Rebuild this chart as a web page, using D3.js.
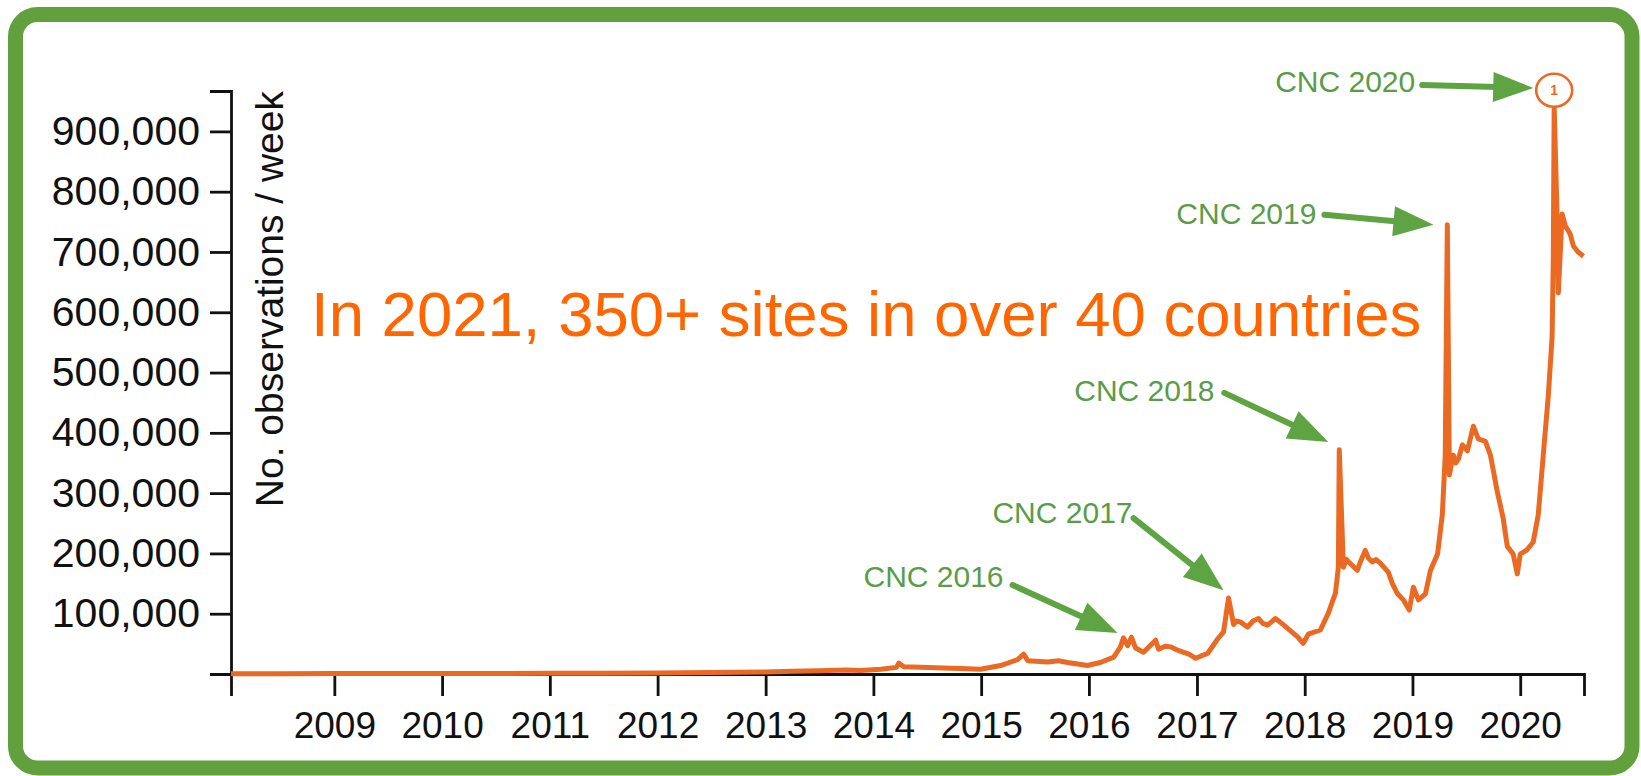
<!DOCTYPE html>
<html>
<head>
<meta charset="utf-8">
<title>observations per week</title>
<script src="https://cdn.jsdelivr.net/npm/d3@7"></script>
<style>
  body { margin: 0; background: #fff; }
  text { font-family: "Liberation Sans", Arial, Helvetica, sans-serif; }
</style>
</head>
<body>
<script>
var dates = [
  "2008-01-17","2008-07-01","2009-01-01","2009-07-01","2010-01-01","2010-07-01",
  "2011-01-01","2011-07-01","2012-01-01","2012-04-01","2012-07-01","2012-10-01",
  "2013-01-01","2013-04-01","2013-07-01","2013-10-01","2013-11-18","2014-01-26",
  "2014-03-20","2014-03-28","2014-04-14","2014-06-10","2014-08-26","2014-10-23",
  "2014-12-30","2015-03-08","2015-05-05","2015-05-25","2015-06-08","2015-08-14",
  "2015-09-20","2015-10-21","2015-12-27","2016-02-09","2016-03-25","2016-04-17",
  "2016-04-27","2016-05-11","2016-05-24","2016-06-07","2016-07-04","2016-08-14",
  "2016-08-24","2016-09-15","2016-10-04","2016-10-25","2016-11-17","2016-12-05",
  "2016-12-28","2017-01-15","2017-02-06","2017-03-12","2017-04-01","2017-04-18",
  "2017-05-05","2017-05-15","2017-05-29","2017-06-21","2017-07-10","2017-07-28",
  "2017-08-12","2017-08-28","2017-09-24","2017-10-15","2017-11-03","2017-12-07",
  "2017-12-27","2018-01-13","2018-02-23","2018-03-22","2018-04-15","2018-04-25",
  "2018-04-28","2018-05-12","2018-05-22","2018-06-05","2018-06-28","2018-07-10",
  "2018-07-25","2018-08-05","2018-08-18","2018-08-30","2018-09-14","2018-10-11",
  "2018-10-25","2018-11-10","2018-12-01","2018-12-21","2019-01-04","2019-01-21",
  "2019-02-14","2019-03-03","2019-03-27","2019-04-12","2019-04-22","2019-04-29",
  "2019-05-06","2019-05-19","2019-05-28","2019-06-06","2019-06-19","2019-07-06",
  "2019-07-26","2019-08-12","2019-09-05","2019-09-22","2019-10-15","2019-11-04",
  "2019-11-18","2019-12-08","2019-12-22","2020-01-01","2020-01-24","2020-02-14",
  "2020-03-02","2020-03-19","2020-04-05","2020-04-18","2020-04-22","2020-04-25",
  "2020-05-05","2020-05-09","2020-05-22","2020-06-02","2020-06-18","2020-06-29",
  "2020-07-15","2020-08-02"
]
var counts = [
  500, 600, 700, 800, 900, 1000,
  1100, 1300, 1500, 2000, 2500, 3000,
  3500, 4500, 5500, 6500, 6000, 8000,
  11000, 18000, 12000, 11000, 10000, 9000,
  8000, 14000, 24000, 33000, 22000, 20000,
  22000, 19000, 14000, 19000, 28000, 45000,
  60000, 47000, 61000, 43000, 36000, 56000,
  41000, 46000, 45000, 40000, 36000, 33000,
  26000, 30000, 34000, 58000, 70000, 126000,
  82000, 88000, 86000, 78000, 88000, 92000,
  84000, 81000, 92000, 84000, 76000, 62000,
  51000, 66000, 73000, 101000, 134000, 177000,
  372000, 177000, 190000, 183000, 172000, 188000,
  205000, 192000, 186000, 190000, 184000, 169000,
  150000, 134000, 123000, 106000, 144000, 123000,
  133000, 172000, 199000, 264000, 363000, 745000,
  330000, 363000, 350000, 357000, 380000, 370000,
  411000, 390000, 386000, 363000, 303000, 259000,
  212000, 199000, 166000, 199000, 206000, 219000,
  264000, 363000, 461000, 559000, 690000, 940000,
  756000, 632000, 763000, 743000, 730000, 710000,
  700000, 693000
]

var yTicks = [0, 100000, 200000, 300000, 400000, 500000, 600000, 700000, 800000, 900000]
var xYears = [2009, 2010, 2011, 2012, 2013, 2014, 2015, 2016, 2017, 2018, 2019, 2020]

// annotations: label, where the arrow points (date, value)
var noteLabels = ["CNC 2016", "CNC 2017", "CNC 2018", "CNC 2019", "CNC 2020"]
var noteDates = ["2016-04-07", "2017-04-01", "2018-03-22", "2019-03-13", "2020-02-14"]
var noteValues = [68000, 139000, 385000, 745000, 972000]

var title = "In 2021, 350+ sites in over 40 countries"
var yTitle = "No. observations / week"

var w = 1641, h = 776
var parse = d3.timeParse("%Y-%m-%d")
var data = dates.map(function(d, i) { return { date: parse(d), v: counts[i] } })

var svg = d3.select("body").append("svg").attr("width", w).attr("height", h)

// green frame
svg.append("rect")
  .attr("x", 15.5).attr("y", 14.5)
  .attr("width", 1616.5).attr("height", 753.5)
  .attr("rx", 22).attr("ry", 22)
  .attr("fill", "#fff")
  .attr("stroke", "#62a03e")
  .attr("stroke-width", 15)

var x = d3.scaleTime()
  .domain([parse("2008-01-17"), parse("2020-08-04")])
  .range([231, 1584])
var y = d3.scaleLinear()
  .domain([0, 967000])
  .range([674, 91])

// y axis
var yAxis = d3.axisLeft(y)
  .tickValues(yTicks)
  .tickSize(21)
  .tickSizeOuter(21)
  .tickPadding(10)
  .tickFormat(function(d) { return d ? d3.format(",")(d) : "" })
var gy = svg.append("g").attr("transform", "translate(231,0)").call(yAxis)
gy.selectAll("text").attr("font-size", 41).attr("fill", "#111")

// x axis
var xAxis = d3.axisBottom(x)
  .tickValues(xYears.map(function(yr) { return new Date(yr, 0, 1) }))
  .tickSize(22)
  .tickSizeOuter(22)
  .tickPadding(16)
  .tickFormat(d3.timeFormat("%Y"))
var gx = svg.append("g").attr("transform", "translate(0,674)").call(xAxis)
gx.selectAll("text").attr("font-size", 37).attr("fill", "#111")

svg.selectAll(".domain, .tick line")
  .attr("stroke", "#111")
  .attr("stroke-width", 2.8)
svg.selectAll(".tick text").attr("font-family", "'Liberation Sans', Arial, sans-serif")

// y title
svg.append("text")
  .attr("transform", "translate(283,91) rotate(-90)")
  .attr("text-anchor", "end")
  .attr("font-size", 39)
  .attr("fill", "#111")
  .text(yTitle)

// the series
var line = d3.line()
  .x(function(d) { return x(d.date) })
  .y(function(d) { return y(d.v) })
svg.append("path")
  .datum(data)
  .attr("d", line)
  .attr("fill", "none")
  .attr("stroke", "#ea6a24")
  .attr("stroke-width", 5)
  .attr("stroke-linejoin", "round")

// circle on the 2020 peak
var peak = data[d3.maxIndex(data, function(d) { return d.v })]
var cx = x(peak.date), cy = y(peak.v) - 17
svg.append("ellipse")
  .attr("cx", cx).attr("cy", cy)
  .attr("rx", 18).attr("ry", 16.5)
  .attr("fill", "#fff")
  .attr("stroke", "#ea6a24")
  .attr("stroke-width", 2.6)
svg.append("text")
  .attr("x", cx).attr("y", cy + 5)
  .attr("text-anchor", "middle")
  .attr("font-size", 14)
  .attr("font-weight", "bold")
  .attr("fill", "#ea6a24")
  .text("1")

// annotation arrows, tail offset from tip and label offset from tail (px)
var tailOff = [[-105, -48], [-90, -72], [-104, -49], [-109, -10], [-111, -3]]
var textOff = [[-9, 2], [-1, 5], [-10, 8], [-8, 9], [-7, 7]]
var green = "#5fa442"

noteLabels.forEach(function(lab, i) {
  var px = x(parse(noteDates[i])), py = y(noteValues[i])
  var tx = px + tailOff[i][0], ty = py + tailOff[i][1]
  var dx = px - tx, dy = py - ty, len = Math.sqrt(dx * dx + dy * dy)
  var ux = dx / len, uy = dy / len, nx = -uy, ny = ux
  var L = 40, W = 15
  var bx = px - ux * L, by = py - uy * L
  svg.append("line")
    .attr("x1", tx).attr("y1", ty)
    .attr("x2", bx + ux * 4).attr("y2", by + uy * 4)
    .attr("stroke", green)
    .attr("stroke-width", 6)
    .attr("stroke-linecap", "round")
  svg.append("path")
    .attr("d", "M" + px + "," + py +
      "L" + (bx + nx * W) + "," + (by + ny * W) +
      "L" + (bx - nx * W) + "," + (by - ny * W) + "Z")
    .attr("fill", green)
  svg.append("text")
    .attr("x", tx + textOff[i][0]).attr("y", ty + textOff[i][1])
    .attr("text-anchor", "end")
    .attr("font-size", 30)
    .attr("fill", "#5a9c47")
    .text(lab)
})

// headline
svg.append("text")
  .attr("x", 311).attr("y", 336)
  .attr("font-size", 63.5)
  .attr("fill", "#ff6600")
  .text(title)
</script>
</body>
</html>
